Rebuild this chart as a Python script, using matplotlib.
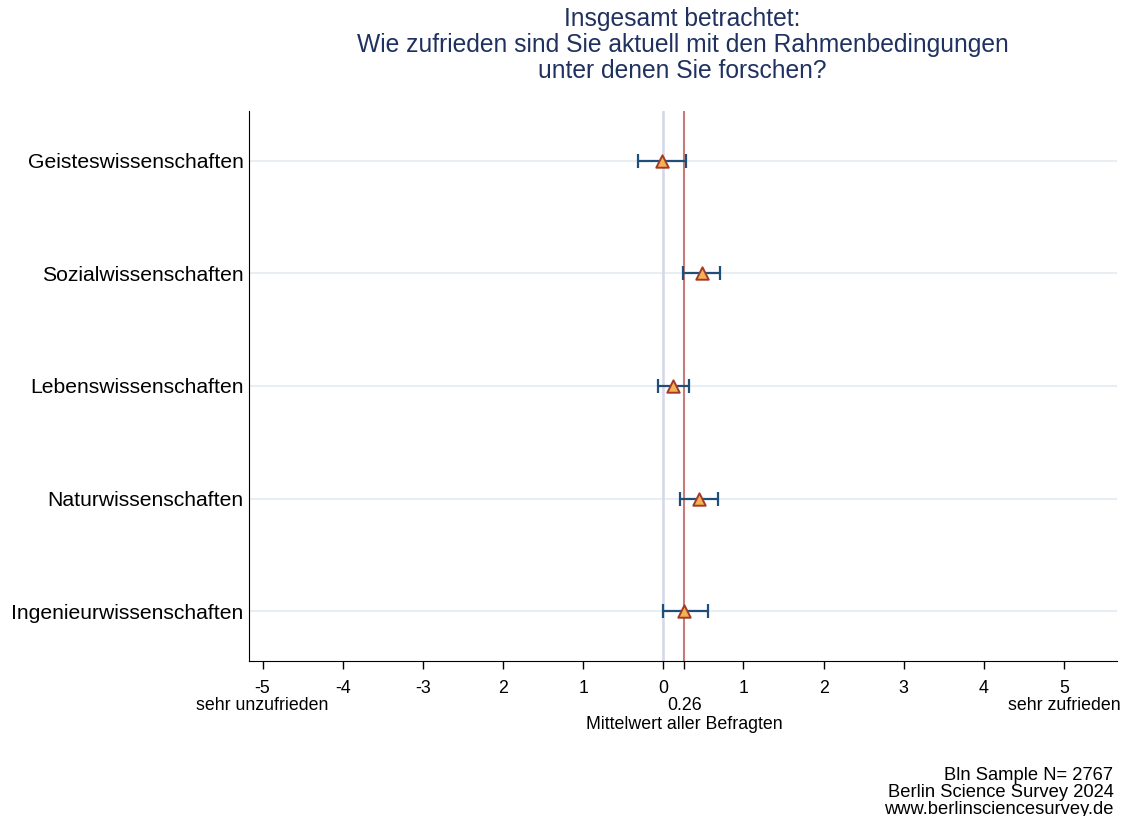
import matplotlib.pyplot as plt

plt.rcParams['font.family'] = ['Liberation Sans', 'DejaVu Sans']

# Fächergruppen, Mittelwerte und Konfidenzintervalle
faecher = ['Geisteswissenschaften', 'Sozialwissenschaften', 'Lebenswissenschaften',
           'Naturwissenschaften', 'Ingenieurwissenschaften']
mittelwert = [-0.02, 0.48, 0.12, 0.44, 0.26]
ci_unten = [-0.32, 0.25, -0.07, 0.21, 0.00]
ci_oben = [0.28, 0.71, 0.32, 0.68, 0.56]
gesamt_mittel = 0.26

xticks = [-5, -4, -3, -2, -1, 0, 1, 2, 3, 4, 5]
xticklabels = ['-5', '-4', '-3', '2', '1', '0', '1', '2', '3', '4', '5']

titel = ('Insgesamt betrachtet:\n'
         'Wie zufrieden sind Sie aktuell mit den Rahmenbedingungen\n'
         'unter denen Sie forschen?')
fusszeile = 'Bln Sample N= 2767\nBerlin Science Survey 2024\nwww.berlinsciencesurvey.de'

navy = '#1f4e79'

fig = plt.figure(figsize=(11.27, 8.16), dpi=100)
ax = fig.add_axes([0.2209, 0.19, 0.7702, 0.674])

pos = list(range(1, len(faecher) + 1))
for p in pos:
    ax.axhline(p, color='#e8eef2', lw=1.5, zorder=0)

ax.axvline(0, color='#d3d7e6', lw=1.8, zorder=1)
ax.axvline(gesamt_mittel, color='#c97a7a', lw=1.5, zorder=1)

err = [[m - lo for m, lo in zip(mittelwert, ci_unten)],
       [hi - m for m, hi in zip(mittelwert, ci_oben)]]
ax.errorbar(mittelwert, pos, xerr=err, fmt='none', ecolor=navy, elinewidth=1.6,
            capsize=5, capthick=1.6, zorder=2)
ax.scatter(mittelwert, pos, marker='^', s=80, facecolor='#f4b350',
           edgecolor='#a23a2c', linewidth=1.4, zorder=3)

ax.set_xlim(-5.17, 5.66)
ax.set_ylim(len(faecher) + 0.44, 0.56)
ax.set_yticks(pos)
ax.set_yticklabels(faecher, fontsize=15.2)
ax.tick_params(axis='y', length=0, pad=4)

ax.set_xticks(xticks + [gesamt_mittel])
ax.set_xticklabels(xticklabels + [''], fontsize=12.8)
ax.tick_params(axis='x', length=6, width=1, pad=8)

for side in ['top', 'right']:
    ax.spines[side].set_visible(False)

trans = ax.get_xaxis_transform()
for x, txt in [(-5, 'sehr unzufrieden'), (5, 'sehr zufrieden'),
               (gesamt_mittel, '0.26')]:
    ax.annotate(txt, xy=(x, 0), xycoords=trans, xytext=(0, -35),
                textcoords='offset points', ha='center', va='baseline',
                fontsize=12.8)
ax.annotate('Mittelwert aller Befragten', xy=(gesamt_mittel, 0), xycoords=trans,
            xytext=(0, -49), textcoords='offset points', ha='center',
            va='baseline', fontsize=12.8)

fig.text(0.6056, 0.992, titel, ha='center', va='top', fontsize=17.7,
         color='#1f3160', linespacing=1.13)
fig.text(0.988, -0.002, fusszeile, ha='right', va='bottom', fontsize=13.2,
         linespacing=1.0)

fig.savefig('out.png', dpi=100)
